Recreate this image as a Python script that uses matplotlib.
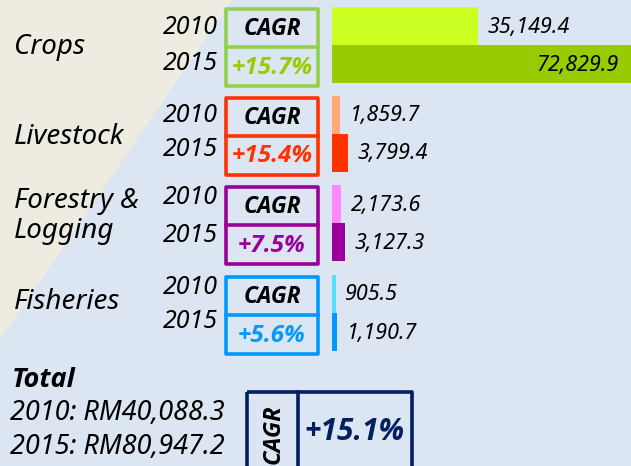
import matplotlib
matplotlib.use("Agg")
import matplotlib.pyplot as plt
from matplotlib.patches import Rectangle, Polygon

# data
categories = ["Crops", "Livestock", "Forestry &\nLogging", "Fisheries"]
years = ["2010", "2015"]
values_2010 = [35149.4, 1859.7, 2173.6, 905.5]
values_2015 = [72829.9, 3799.4, 3127.3, 1190.7]
cagr = ["+15.7%", "+15.4%", "+7.5%", "+5.6%"]
total_2010 = "RM40,088.3"
total_2015 = "RM80,947.2"
total_cagr = "+15.1%"

# colours
box_colors = ["#92D050", "#FF3300", "#990099", "#0099FF"]
text_colors = ["#99CC00", "#FF3300", "#990099", "#0099FF"]
bar_colors_2010 = ["#CCFF22", "#FFAA77", "#FF88FF", "#55DDFF"]
bar_colors_2015 = ["#99CC00", "#FF3300", "#990099", "#0099FF"]
navy = "#002060"

# layout (pixels)
W, H = 631, 466
group_top = [7, 96, 185, 275]
bar_h = 38
label_y = [47, 137, 216, 302]
year_y_2010 = [27, 115, 198, 287]
year_y_2015 = [63, 150, 235, 322]

FONT = "Noto Sans"
BOLD = ["Open Sans", "DejaVu Sans"]

fig = plt.figure(figsize=(W / 100, H / 100), dpi=100)
fig.patch.set_facecolor("#DCE6F2")

ax = fig.add_axes([0, 0, 1, 1])
ax.set_xlim(0, W)
ax.set_ylim(H, 0)
ax.axis("off")

# beige background wedge
ax.add_patch(Polygon([(0, 0), (232, 0), (0, 340)], closed=True,
                     facecolor="#EEECE1", edgecolor="none", zorder=0))

for i, cat in enumerate(categories):
    top = group_top[i]
    ax.text(14, label_y[i], cat, fontsize=20, style="italic", family=FONT,
            ha="left", va="center", linespacing=1.1)
    ax.text(218, year_y_2010[i], years[0], fontsize=18, style="italic",
            family=FONT, ha="right", va="center")
    ax.text(218, year_y_2015[i], years[1], fontsize=18, style="italic",
            family=FONT, ha="right", va="center")

    # CAGR box
    b_top = top + 2
    b_bot = top + 79
    div = top + 40
    ax.add_patch(Rectangle((226, b_top), 92, b_bot - b_top, fill=False,
                           edgecolor=box_colors[i], linewidth=2.6,
                           joinstyle="round"))
    ax.plot([226, 318], [div, div], color=box_colors[i], linewidth=2.6)
    ax.text(272, (b_top + div) / 2 + 1, "CAGR", fontsize=16.5, weight="bold",
            style="italic", family=BOLD, ha="center", va="center")
    ax.text(272, (div + b_bot) / 2 + 1, cagr[i], fontsize=17.5, weight="bold",
            style="italic", family=BOLD, ha="center", va="center",
            color=text_colors[i])

# bars
bx = fig.add_axes([332 / W, 0, (W - 332) / W, 1])
bx.set_facecolor("none")
bx.set_ylim(H, 0)
xmax = 35149.4 * (W - 332) / 146
bx.set_xlim(0, xmax)
bx.axis("off")

y10 = [t + bar_h / 2 for t in group_top]
y15 = [t + bar_h * 1.5 for t in group_top]
bx.barh(y10, values_2010, height=bar_h, color=bar_colors_2010)
bx.barh(y15, values_2015, height=bar_h, color=bar_colors_2015)

for i in range(len(categories)):
    bx.annotate(f"{values_2010[i]:,.1f}", (values_2010[i], y10[i] + 1),
                xytext=(7, 0), textcoords="offset points", fontsize=15.5,
                style="italic", family=FONT, ha="left", va="center")
    if values_2015[i] > xmax:
        bx.annotate(f"{values_2015[i]:,.1f}", (xmax, y15[i] + 1),
                    xytext=(-9, 0), textcoords="offset points", fontsize=15.5,
                    style="italic", family=FONT, ha="right", va="center")
    else:
        bx.annotate(f"{values_2015[i]:,.1f}", (values_2015[i], y15[i] + 1),
                    xytext=(7, 0), textcoords="offset points", fontsize=15.5,
                    style="italic", family=FONT, ha="left", va="center")

# total section
ax.text(12, 380, "Total", fontsize=19.5, weight="bold", style="italic",
        family=BOLD, ha="left", va="center")
ax.text(10, 413, f"2010: {total_2010}", fontsize=19.5, style="italic",
        family=FONT, ha="left", va="center")
ax.text(10, 447, f"2015: {total_2015}", fontsize=19.5, style="italic",
        family=FONT, ha="left", va="center")

ax.add_patch(Rectangle((247, 392), 165, 90, fill=False, edgecolor=navy,
                       linewidth=2.6, joinstyle="round"))
ax.plot([298, 298], [392, H + 5], color=navy, linewidth=2.6)
ax.text(274, 434, "CAGR", fontsize=17, weight="bold", style="italic",
        family=BOLD, ha="center", va="center", rotation=90)
ax.text(354, 432, total_cagr, fontsize=21.5, weight="bold", style="italic",
        family=BOLD, ha="center", va="center", color=navy)

fig.savefig("out.png", dpi=100, facecolor=fig.get_facecolor())
